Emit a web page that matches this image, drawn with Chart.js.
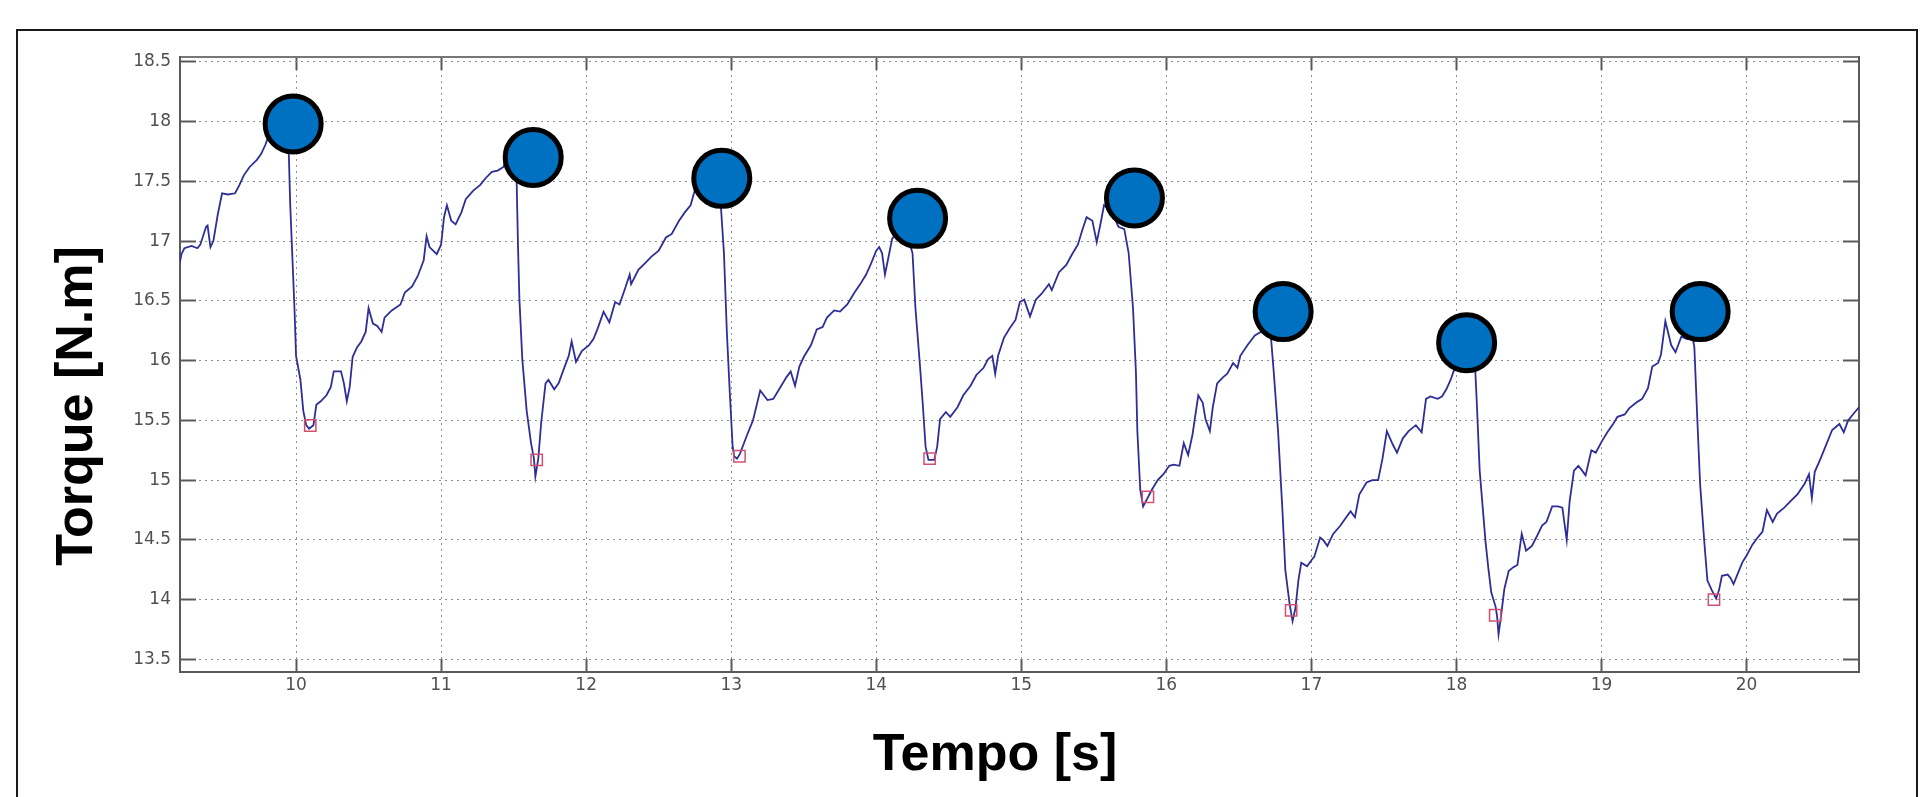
<!DOCTYPE html>
<html>
<head>
<meta charset="utf-8">
<script src="https://cdn.jsdelivr.net/npm/chart.js@4/dist/chart.umd.min.js"></script>
<style>
  html, body { margin: 0; padding: 0; background: #ffffff; }
  #c { display: block; }
</style>
</head>
<body>
<canvas id="c" width="1932" height="797"></canvas>
<script>
// ---- data ----
const xTicks = [10, 11, 12, 13, 14, 15, 16, 17, 18, 19, 20];
const xTickLabels = ['10', '11', '12', '13', '14', '15', '16', '17', '18', '19', '20'];
const yTicks = [13.5, 14, 14.5, 15, 15.5, 16, 16.5, 17, 17.5, 18, 18.5];
const yTickLabels = ['13.5', '14', '14.5', '15', '15.5', '16', '16.5', '17', '17.5', '18', '18.5'];

const timeS = [
  9.195, 9.21, 9.23, 9.28, 9.32, 9.34, 9.38, 9.39, 9.41, 9.43, 9.46, 9.49, 9.53, 9.58, 9.61, 9.64, 9.68, 9.73, 9.76, 9.79, 9.81, 9.86, 9.91, 9.94,
  9.95, 9.96, 9.98, 9.99, 10.00, 10.03, 10.05, 10.07, 10.09, 10.12, 10.14, 10.17, 10.21, 10.24, 10.26, 10.31, 10.33, 10.35, 10.37, 10.39,
  10.42, 10.45, 10.48, 10.50, 10.53, 10.56, 10.59, 10.61, 10.66, 10.72, 10.75, 10.80, 10.84, 10.88, 10.90, 10.92, 10.97, 11.00, 11.02, 11.04,
  11.07, 11.10, 11.14, 11.17, 11.22, 11.27, 11.31, 11.35, 11.39, 11.43, 11.45, 11.49, 11.52, 11.53, 11.54, 11.56, 11.59, 11.62, 11.64, 11.65,
  11.67, 11.69, 11.72, 11.74, 11.78, 11.81, 11.84, 11.88, 11.90, 11.93, 11.97, 12.02, 12.05, 12.08, 12.12, 12.16, 12.20, 12.23, 12.27, 12.30,
  12.31, 12.36, 12.41, 12.45, 12.50, 12.55, 12.59, 12.64, 12.68, 12.72, 12.75, 12.80, 12.86, 12.92, 12.93, 12.95, 12.97, 12.99, 13.01, 13.02,
  13.04, 13.06, 13.11, 13.15, 13.20, 13.25, 13.29, 13.34, 13.38, 13.41, 13.44, 13.47, 13.50, 13.55, 13.59, 13.63, 13.66, 13.71, 13.75, 13.80,
  13.85, 13.89, 13.93, 13.96, 14.00, 14.02, 14.04, 14.06, 14.09, 14.11, 14.16, 14.21, 14.24, 14.25, 14.27, 14.30, 14.32, 14.34, 14.36, 14.40,
  14.42, 14.44, 14.48, 14.51, 14.56, 14.60, 14.65, 14.69, 14.74, 14.77, 14.80, 14.82, 14.84, 14.88, 14.92, 14.96, 14.99, 15.02, 15.06, 15.10,
  15.14, 15.19, 15.21, 15.26, 15.31, 15.35, 15.39, 15.42, 15.45, 15.49, 15.52, 15.55, 15.57, 15.62, 15.67, 15.71, 15.74, 15.77, 15.79, 15.80,
  15.82, 15.84, 15.87, 15.90, 15.94, 15.98, 16.02, 16.05, 16.09, 16.12, 16.15, 16.18, 16.22, 16.25, 16.27, 16.30, 16.32, 16.35, 16.39, 16.42,
  16.46, 16.49, 16.51, 16.56, 16.61, 16.65, 16.69, 16.72, 16.74, 16.77, 16.80, 16.82, 16.85, 16.87, 16.89, 16.91, 16.93, 16.97, 17.00, 17.02,
  17.06, 17.08, 17.11, 17.15, 17.20, 17.24, 17.27, 17.30, 17.33, 17.38, 17.42, 17.46, 17.49, 17.52, 17.56, 17.59, 17.63, 17.67, 17.72, 17.76,
  17.79, 17.82, 17.87, 17.90, 17.93, 17.96, 17.98, 18.02, 18.08, 18.12, 18.13, 18.14, 18.16, 18.20, 18.22, 18.24, 18.27, 18.28, 18.29, 18.31,
  18.33, 18.36, 18.39, 18.42, 18.45, 18.48, 18.52, 18.55, 18.59, 18.62, 18.66, 18.70, 18.73, 18.76, 18.78, 18.81, 18.84, 18.86, 18.89, 18.93,
  18.96, 19.00, 19.04, 19.08, 19.11, 19.16, 19.19, 19.24, 19.28, 19.32, 19.35, 19.39, 19.41, 19.44, 19.48, 19.51, 19.55, 19.59, 19.63, 19.64,
  19.66, 19.68, 19.71, 19.73, 19.76, 19.79, 19.81, 19.83, 19.87, 19.89, 19.91, 19.94, 19.97, 20.00, 20.04, 20.07, 20.11, 20.14, 20.18, 20.21,
  20.26, 20.30, 20.35, 20.40, 20.43, 20.45, 20.47, 20.51, 20.54, 20.59, 20.64, 20.67, 20.70, 20.74, 20.775
];

const torqueNm = [
  16.80, 16.89, 16.94, 16.96, 16.94, 16.97, 17.12, 17.13, 16.95, 17.00, 17.22, 17.40, 17.39, 17.40, 17.47, 17.55, 17.62, 17.68, 17.73, 17.81, 17.88, 17.93, 17.98, 18.00,
  17.73, 17.30, 16.71, 16.41, 16.04, 15.84, 15.58, 15.46, 15.43, 15.46, 15.63, 15.66, 15.71, 15.78, 15.91, 15.91, 15.81, 15.66, 15.78, 16.03,
  16.11, 16.16, 16.24, 16.44, 16.31, 16.29, 16.24, 16.36, 16.42, 16.47, 16.57, 16.62, 16.71, 16.84, 17.04, 16.95, 16.89, 16.97, 17.20, 17.30,
  17.17, 17.14, 17.24, 17.35, 17.42, 17.47, 17.53, 17.58, 17.59, 17.62, 17.68, 17.70, 17.55, 16.97, 16.51, 16.01, 15.58, 15.31, 15.18, 15.03,
  15.18, 15.48, 15.81, 15.84, 15.76, 15.81, 15.91, 16.04, 16.16, 15.99, 16.08, 16.13, 16.18, 16.27, 16.41, 16.32, 16.49, 16.47, 16.61, 16.72,
  16.64, 16.76, 16.82, 16.87, 16.92, 17.03, 17.06, 17.17, 17.24, 17.30, 17.43, 17.50, 17.55, 17.52, 17.27, 16.90, 16.24, 15.74, 15.28, 15.20,
  15.18, 15.22, 15.38, 15.50, 15.75, 15.67, 15.68, 15.78, 15.86, 15.91, 15.79, 15.95, 16.03, 16.13, 16.26, 16.28, 16.36, 16.42, 16.41, 16.47,
  16.57, 16.64, 16.72, 16.80, 16.92, 16.95, 16.90, 16.72, 16.90, 17.02, 17.10, 17.05, 16.94, 16.90, 16.44, 15.98, 15.65, 15.28, 15.17, 15.17,
  15.28, 15.51, 15.57, 15.53, 15.61, 15.71, 15.79, 15.88, 15.94, 16.01, 16.04, 15.89, 16.04, 16.19, 16.27, 16.34, 16.49, 16.51, 16.37, 16.51,
  16.56, 16.64, 16.59, 16.74, 16.80, 16.89, 16.97, 17.09, 17.20, 17.17, 16.99, 17.17, 17.30, 17.25, 17.12, 17.10, 16.90, 16.44, 15.91, 15.41,
  14.92, 14.78, 14.85, 14.92, 15.00, 15.05, 15.12, 15.13, 15.12, 15.31, 15.21, 15.38, 15.71, 15.65, 15.51, 15.41, 15.61, 15.81, 15.86, 15.89,
  15.98, 15.94, 16.04, 16.13, 16.21, 16.24, 16.28, 16.21, 15.91, 15.41, 14.75, 14.25, 13.96, 13.82, 13.93, 14.16, 14.31, 14.28, 14.33, 14.36,
  14.52, 14.50, 14.45, 14.55, 14.62, 14.69, 14.74, 14.69, 14.88, 14.98, 15.00, 15.00, 15.18, 15.41, 15.30, 15.23, 15.35, 15.41, 15.46, 15.40,
  15.68, 15.70, 15.68, 15.70, 15.76, 15.84, 15.91, 16.02, 16.05, 15.98, 15.91, 15.65, 15.08, 14.49, 14.26, 14.06, 13.94, 13.86, 13.71, 13.89,
  14.09, 14.24, 14.27, 14.29, 14.55, 14.41, 14.45, 14.52, 14.62, 14.65, 14.78, 14.78, 14.77, 14.50, 14.82, 15.08, 15.12, 15.09, 15.04, 15.25,
  15.23, 15.32, 15.40, 15.47, 15.53, 15.55, 15.60, 15.65, 15.68, 15.77, 15.95, 15.98, 16.05, 16.33, 16.13, 16.07, 16.20, 16.18, 16.18, 16.11,
  15.52, 14.96, 14.46, 14.16, 14.08, 14.01, 14.08, 14.20, 14.21, 14.18, 14.13, 14.22, 14.31, 14.37, 14.46, 14.51, 14.57, 14.75, 14.65, 14.72,
  14.77, 14.82, 14.88, 14.97, 15.05, 14.85, 15.07, 15.18, 15.27, 15.42, 15.47, 15.40, 15.50, 15.56, 15.61
];

// Blue circles placed over the peaks
const peakTime = [9.98, 11.635, 12.935, 14.285, 15.78, 16.805, 18.07, 19.68];
const peakTorque = [17.98, 17.70, 17.525, 17.19, 17.36, 16.41, 16.15, 16.41];

// Small red squares at the minima
const minTime = [10.098, 11.659, 13.057, 14.368, 15.873, 16.86, 18.267, 19.775];
const minTorque = [15.457, 15.17, 15.20, 15.18, 14.86, 13.91, 13.87, 14.00];

const X_MIN = 9.2, X_MAX = 20.775, Y_MIN = 13.395, Y_MAX = 18.54;
const xTitle = 'Tempo [s]';
const yTitle = 'Torque [N.m]';

// ---- helpers ----
const pairs = (xs, ys) => xs.map((x, i) => ({ x: x, y: ys[i] }));

const decor = {
  id: 'decor',
  beforeDraw(chart) {
    const ctx = chart.ctx;
    ctx.save();
    ctx.fillStyle = '#ffffff';
    ctx.fillRect(0, 0, chart.width, chart.height);
    ctx.restore();
  },
  afterDraw(chart) {
    const ctx = chart.ctx;
    ctx.save();
    // outer frame
    ctx.strokeStyle = '#1a1a1a';
    ctx.lineWidth = 2;
    ctx.strokeRect(17, 30, 1900, 820);
    // titles
    ctx.fillStyle = '#000000';
    ctx.font = 'bold 52px "Liberation Sans", Arial, sans-serif';
    ctx.textAlign = 'center';
    ctx.textBaseline = 'alphabetic';
    ctx.fillText(xTitle, 995, 770);
    ctx.translate(92, 406);
    ctx.rotate(-Math.PI / 2);
    ctx.fillText(yTitle, 0, 0);
    ctx.restore();
  }
};

const tickFont = { family: '"DejaVu Sans", sans-serif', size: 17 };
const gridColor = '#8e8e8e';
const axisColor = '#5a5a5a';

new Chart(document.getElementById('c'), {
  data: {
    datasets: [
      {
        type: 'scatter',
        label: 'peaks',
        data: pairs(peakTime, peakTorque),
        pointRadius: 28,
        pointHoverRadius: 28,
        pointBackgroundColor: '#0070C0',
        pointBorderColor: '#000000',
        pointBorderWidth: 5,
        order: 0,
        clip: false
      },
      {
        type: 'scatter',
        label: 'minima',
        data: pairs(minTime, minTorque),
        pointStyle: 'rect',
        pointRadius: 8,
        pointHoverRadius: 8,
        pointBackgroundColor: 'rgba(0,0,0,0)',
        pointBorderColor: '#d2506e',
        pointBorderWidth: 1.5,
        order: 1
      },
      {
        type: 'line',
        label: 'torque',
        data: pairs(timeS, torqueNm),
        borderColor: '#2e2e96',
        borderWidth: 1.8,
        pointRadius: 0,
        tension: 0,
        fill: false,
        order: 2
      }
    ]
  },
  options: {
    responsive: false,
    animation: false,
    devicePixelRatio: 1,
    layout: { padding: { top: 57, left: 0, right: 73, bottom: 0 } },
    plugins: {
      legend: { display: false },
      tooltip: { enabled: false },
      title: { display: false }
    },
    scales: {
      x: {
        type: 'linear',
        position: 'bottom',
        min: X_MIN,
        max: X_MAX,
        afterBuildTicks: (s) => { s.ticks = xTicks.map(v => ({ value: v })); },
        afterFit: (s) => { s.height = 125; },
        ticks: {
          autoSkip: false,
          maxRotation: 0,
          font: tickFont,
          color: '#505050',
          padding: 16,
          callback: (v, i) => xTickLabels[i]
        },
        grid: {
          color: gridColor,
          lineWidth: 1,
          tickLength: -13,
          tickColor: axisColor,
          tickWidth: 2
        },
        border: { display: true, color: axisColor, width: 2, dash: [2, 4] }
      },
      x2: {
        type: 'linear',
        axis: 'x',
        position: 'top',
        min: X_MIN,
        max: X_MAX,
        afterBuildTicks: (s) => { s.ticks = xTicks.map(v => ({ value: v })); },
        afterFit: (s) => { s.height = 0; },
        ticks: { display: false },
        grid: {
          drawOnChartArea: false,
          tickLength: -13,
          tickColor: axisColor,
          tickWidth: 2
        },
        border: { display: true, color: '#777777', width: 2 }
      },
      y: {
        type: 'linear',
        position: 'left',
        min: Y_MIN,
        max: Y_MAX,
        afterBuildTicks: (s) => { s.ticks = yTicks.map(v => ({ value: v })); },
        afterFit: (s) => { s.width = 180; },
        ticks: {
          autoSkip: false,
          font: tickFont,
          color: '#505050',
          padding: 25,
          callback: (v, i) => yTickLabels[i]
        },
        grid: {
          color: gridColor,
          lineWidth: 1,
          tickLength: -16,
          tickColor: axisColor,
          tickWidth: 2
        },
        border: { display: true, color: axisColor, width: 2, dash: [2, 4] }
      },
      y2: {
        type: 'linear',
        axis: 'y',
        position: 'right',
        min: Y_MIN,
        max: Y_MAX,
        afterBuildTicks: (s) => { s.ticks = yTicks.map(v => ({ value: v })); },
        afterFit: (s) => { s.width = 0; },
        ticks: { display: false },
        grid: {
          drawOnChartArea: false,
          tickLength: -16,
          tickColor: axisColor,
          tickWidth: 2
        },
        border: { display: true, color: axisColor, width: 2 }
      }
    }
  },
  plugins: [decor]
});
</script>
</body>
</html>
